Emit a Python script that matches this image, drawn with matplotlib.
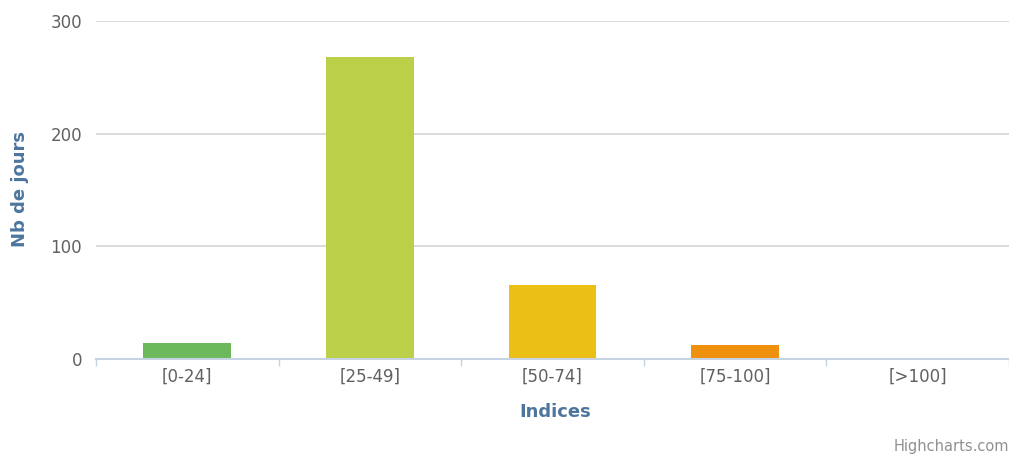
import matplotlib.pyplot as plt
import numpy as np

categories = ['[0-24]', '[25-49]', '[50-74]', '[75-100]', '[>100]']
nb_jours = [14, 268, 66, 12, 0]
bar_colors = ['#6cb95b', '#bbcf48', '#ecbf14', '#ef900e', '#e0402a']

plt.rcParams['font.family'] = ['DejaVu Sans']


def main():
    fig = plt.figure(figsize=(10.09, 4.54), dpi=100)
    ax = fig.add_axes([96 / 1009, 1 - 359 / 454, (1009 - 96) / 1009, (359 - 21) / 454])

    x = np.arange(len(categories))
    ax.bar(x, nb_jours, width=0.48, color=bar_colors, zorder=3)

    ax.set_xlim(-0.5, len(categories) - 0.5)
    ax.set_ylim(0, 300)
    ax.set_yticks([0, 100, 200, 300])
    ax.grid(axis='y', color='#d4d4d4', lw=1.2, zorder=0)

    ax.set_xticks(x)
    ax.set_xticklabels(categories)
    ax.set_xticks(np.arange(len(categories) + 1) - 0.5, minor=True)
    ax.tick_params(axis='x', which='major', length=0, pad=6,
                   labelsize=12, labelcolor='#606060')
    ax.tick_params(axis='x', which='minor', length=5, width=1,
                   color='#c6d3e2')
    ax.tick_params(axis='y', length=0, pad=10, labelsize=12,
                   labelcolor='#606060')

    for s in ['top', 'right', 'left']:
        ax.spines[s].set_visible(False)
    ax.spines['bottom'].set_color('#c6d3e2')
    ax.spines['bottom'].set_linewidth(1.5)
    ax.spines['bottom'].set_zorder(4)

    fig.text(20 / 1009, 1 - 189 / 454, 'Nb de jours', rotation=90,
             ha='center', va='center', fontsize=13, fontweight='bold',
             color='#4d759e')
    fig.text(555 / 1009, 1 - 412 / 454, 'Indices', ha='center',
             va='center', fontsize=13, fontweight='bold', color='#4d759e')
    fig.text(1009 / 1009, 1 - 446 / 454, 'Highcharts.com', ha='right',
             va='center', fontsize=10.5, color='#909090')

    fig.savefig('out.png', dpi=100)


main()
